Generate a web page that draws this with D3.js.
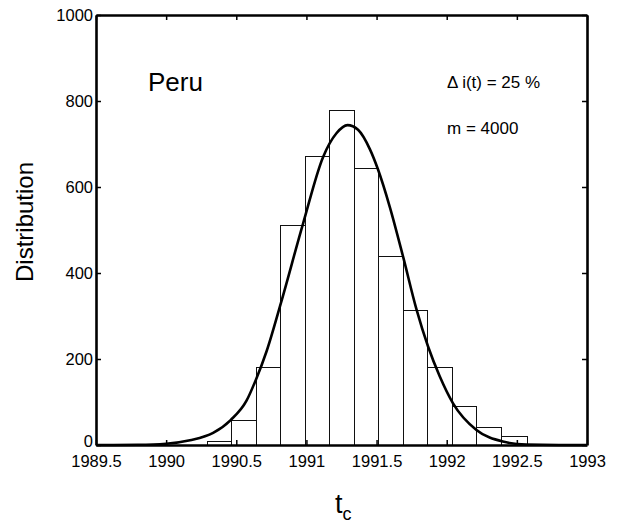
<!DOCTYPE html>
<html>
<head>
<meta charset="utf-8">
<script src="https://cdn.jsdelivr.net/npm/d3@7"></script>
<style>
  body { margin: 0; background: #fff; }
  svg text { font-family: "Liberation Sans", Arial, sans-serif; fill: #000; }
</style>
</head>
<body>
<div id="chart"></div>
<script>
// histogram of t_c, bin edges
var binEdges = [1990.29, 1990.46, 1990.64, 1990.81, 1990.99, 1991.16, 1991.34,
                1991.51, 1991.69, 1991.86, 1992.04, 1992.21, 1992.39, 1992.57];
var binCounts = [9, 57, 181, 512, 671, 778, 644, 440, 314, 181, 91, 43, 22];

// fitted curve
var fitT = [1989.5, 1989.8, 1990.0, 1990.17, 1990.335, 1990.46, 1990.573, 1990.64, 1990.716,
            1990.818, 1990.976, 1991.119, 1991.214, 1991.293, 1991.368, 1991.452,
            1991.511, 1991.594, 1991.689, 1991.784, 1991.867, 1991.95, 1992.045, 1992.212,
            1992.40, 1992.568, 1992.8, 1993.0];
var fitV = [0, 0.5, 3, 11, 28, 58, 103, 152, 218,
            330, 515, 670, 725, 744, 733, 688,
            640, 554, 438, 316, 229, 160, 97, 35,
            8, 1, 0, 0];

var xTicks = [1989.5, 1990, 1990.5, 1991, 1991.5, 1992, 1992.5, 1993];
var yTicks = [0, 200, 400, 600, 800, 1000];

var W = 621, H = 525;
var svg = d3.select("#chart").append("svg")
  .attr("width", W).attr("height", H);

var x = d3.scaleLinear().domain([1989.5, 1993]).range([96, 587]);
var y = d3.scaleLinear().domain([0, 1000]).range([445, 15]);

// bars
svg.append("g")
  .selectAll("rect")
  .data(binCounts)
  .enter()
  .append("rect")
    .attr("x", function(d, i) { return Math.round(x(binEdges[i])) + 0.5; })
    .attr("width", function(d, i) { return Math.round(x(binEdges[i + 1])) - Math.round(x(binEdges[i])); })
    .attr("y", function(d) { return Math.round(y(d)) + 0.5; })
    .attr("height", function(d) { return Math.round(y(0)) - Math.round(y(d)); })
    .attr("fill", "#fff")
    .attr("stroke", "#111")
    .attr("stroke-width", 1);

// fit line
var line = d3.line()
  .x(function(d, i) { return x(fitT[i]); })
  .y(function(d) { return y(d); })
  .curve(d3.curveMonotoneX);

svg.append("path")
  .attr("d", line(fitV))
  .attr("fill", "none")
  .attr("stroke", "#000")
  .attr("stroke-width", 2.6);

// axes - inward ticks, mirrored on top / right
var axBottom = svg.append("g")
  .attr("transform", "translate(0," + y(0) + ")")
  .call(d3.axisBottom(x).tickValues(xTicks).tickFormat(d3.format("")).tickSizeInner(-5).tickSizeOuter(0).tickPadding(10));
var axLeft = svg.append("g")
  .attr("transform", "translate(" + x(1989.5) + ",0)")
  .call(d3.axisLeft(y).tickValues(yTicks).tickFormat(d3.format("d")).tickSizeInner(-5).tickSizeOuter(0).tickPadding(3));
var axTop = svg.append("g")
  .attr("transform", "translate(0," + y(1000) + ")")
  .call(d3.axisTop(x).tickValues(xTicks).tickFormat("").tickSizeInner(-5).tickSizeOuter(0));
var axRight = svg.append("g")
  .attr("transform", "translate(" + x(1993) + ",0)")
  .call(d3.axisRight(y).tickValues(yTicks).tickFormat("").tickSizeInner(-5).tickSizeOuter(0));

[axBottom, axLeft, axTop, axRight].forEach(function(g) {
  g.select(".domain").attr("stroke", "#000").attr("stroke-width", 2.6);
  g.selectAll(".tick line").attr("stroke", "#000").attr("stroke-width", 1.5);
  g.selectAll(".tick text")
    .style("font-family", '"Liberation Sans", Arial, sans-serif')
    .style("font-size", "16.5px")
    .attr("fill", "#000");
});
// keep the "0" clear of "1989.5"
axLeft.selectAll(".tick text")
  .attr("dy", function(d) { return d === 0 ? "0.1em" : "0.32em"; });

// annotations
svg.append("text")
  .attr("x", 148).attr("y", 90.5)
  .style("font-size", "26px")
  .text("Peru");

svg.append("text")
  .attr("x", 447).attr("y", 87.5)
  .style("font-size", "17px")
  .text("\u0394 i(t) = 25 %");

svg.append("text")
  .attr("x", 447).attr("y", 134)
  .style("font-size", "17px")
  .text("m = 4000");

// axis titles
svg.append("text")
  .attr("transform", "translate(33,222) rotate(-90)")
  .attr("text-anchor", "middle")
  .style("font-size", "24px")
  .text("Distribution");

var tc = svg.append("text")
  .attr("x", 335).attr("y", 513)
  .style("font-size", "27px")
  .text("t");
tc.append("tspan")
  .attr("dy", 7)
  .style("font-size", "18px")
  .text("c");
</script>
</body>
</html>
